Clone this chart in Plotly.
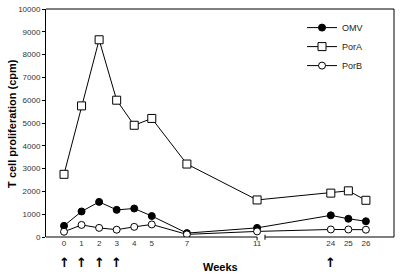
import plotly.graph_objects as go

weeks = [0, 1, 2, 3, 4, 5, 7, 11, 24, 25, 26]
omv = [490, 1120, 1540, 1190, 1250, 920, 170, 400, 950, 800, 690]
pora = [2750, 5750, 8650, 6000, 4900, 5200, 3200, 1625, 1925, 2025, 1610]
porb = [230, 530, 400, 320, 445, 550, 115, 245, 330, 330, 320]
immunization_weeks = [0, 1, 2, 3, 24]

BREAK_AFTER = 11
BREAK_SHIFT = 8.8  # compress the 11 -> 24 gap (broken axis)


def pos(w):
    return w if w <= BREAK_AFTER else w - BREAK_SHIFT


xs = [pos(w) for w in weeks]
FONT = "Arial, Liberation Sans, sans-serif"

fig = go.Figure()
fig.add_trace(go.Scatter(x=xs, y=omv, name="OMV", mode="lines+markers",
                         line=dict(color="black", width=1),
                         marker=dict(symbol="circle", size=7, color="black",
                                     line=dict(color="black", width=1))))
fig.add_trace(go.Scatter(x=xs, y=pora, name="PorA", mode="lines+markers",
                         line=dict(color="black", width=1),
                         marker=dict(symbol="square", size=8, color="white",
                                     line=dict(color="black", width=1))))
fig.add_trace(go.Scatter(x=xs, y=porb, name="PorB", mode="lines+markers",
                         line=dict(color="black", width=1),
                         marker=dict(symbol="circle", size=7, color="white",
                                     line=dict(color="black", width=1))))

x0, x1 = -1.026, 18.8
break_start = pos(BREAK_AFTER) + 0.45

shapes = [
    dict(type="line", xref="paper", yref="paper", x0=0, x1=1, y0=1, y1=1,
         line=dict(color="black", width=1)),
    dict(type="line", xref="paper", yref="paper", x0=1, x1=1, y0=0, y1=1,
         line=dict(color="black", width=1)),
    dict(type="line", xref="x", yref="paper", x0=x0, x1=pos(BREAK_AFTER), y0=0, y1=0,
         line=dict(color="black", width=1)),
    dict(type="line", xref="x", yref="paper", x0=break_start, x1=x1, y0=0, y1=0,
         line=dict(color="black", width=1)),
    dict(type="line", xref="x", yref="paper", x0=pos(BREAK_AFTER), x1=pos(BREAK_AFTER),
         y0=0, y1=-0.015, line=dict(color="black", width=1)),
    dict(type="line", xref="x", yref="paper", x0=break_start, x1=break_start,
         y0=0.01, y1=-0.012, line=dict(color="black", width=1)),
]

annotations = []
for w in immunization_weeks:
    annotations.append(dict(x=pos(w), y=-0.112, xref="x", yref="paper",
                            text="<b>↑</b>", showarrow=False, xanchor="center",
                            yanchor="middle",
                            font=dict(size=13, family="DejaVu Sans", color="black")))
annotations.append(dict(x=(x0 + x1) / 2, y=-0.133, xref="x", yref="paper",
                        text="<b>Weeks</b>", showarrow=False, xanchor="center",
                        yanchor="middle", font=dict(size=11, family=FONT, color="black")))
annotations.append(dict(x=-0.098, y=0.5, xref="paper", yref="paper",
                        text="<b>T cell proliferation (cpm)</b>", textangle=-90,
                        showarrow=False, xanchor="center", yanchor="middle",
                        font=dict(size=11, family=FONT, color="black")))

fig.update_layout(
    width=400, height=274,
    margin=dict(l=46, r=6, t=5, b=37),
    paper_bgcolor="white", plot_bgcolor="white",
    font=dict(family=FONT, size=8, color="#333"),
    showlegend=True,
    legend=dict(x=(302 - 46) / 348, y=0.982, xanchor="left", yanchor="top",
                bgcolor="rgba(0,0,0,0)", font=dict(size=9, family=FONT, color="#222"),
                itemwidth=30, tracegroupgap=0),
    xaxis=dict(range=[x0, x1], tickvals=xs, ticktext=[str(w) for w in weeks],
               showgrid=False, zeroline=False, showline=False, ticks="",
               tickfont=dict(size=8, color="#333")),
    yaxis=dict(range=[0, 10000], dtick=1000, tickformat="d", showgrid=False,
               zeroline=False, showline=True, linecolor="black", linewidth=1,
               ticks="outside", ticklen=3, tickcolor="black",
               tickfont=dict(size=8, color="#333")),
    shapes=shapes, annotations=annotations,
)

fig.write_html("out.html", config={"displayModeBar": False},
               post_script="document.body.style.margin='0';document.body.style.padding='0';")
